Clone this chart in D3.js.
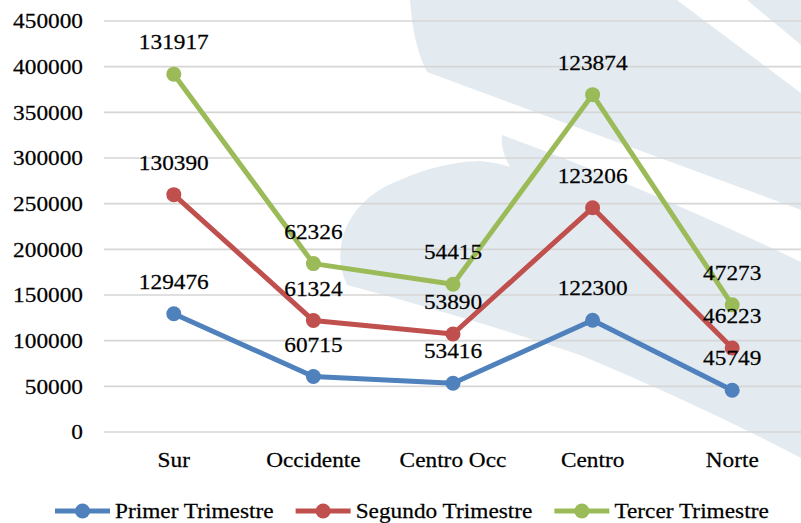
<!DOCTYPE html>
<html>
<head>
<meta charset="utf-8">
<script src="https://cdn.jsdelivr.net/npm/d3@7"></script>
<style>
  body { margin: 0; background: #fff; }
</style>
</head>
<body>
<div id="chart"></div>
<script>
const categories = ["Sur", "Occidente", "Centro Occ", "Centro", "Norte"];
const primer = [129476, 60715, 53416, 122300, 45749];
const segundo = [130390, 61324, 53890, 123206, 46223];
const tercer = [131917, 62326, 54415, 123874, 47273];
const seriesNames = ["Primer Trimestre", "Segundo Trimestre", "Tercer Trimestre"];
const yTicks = [0, 50000, 100000, 150000, 200000, 250000, 300000, 350000, 400000, 450000];

const colors = ["#4f81bd", "#c0504d", "#9bbb59"];
const width = 801, height = 523;
const SX = 1.06; // text in the source is slightly stretched horizontally
const fontSize = 22;

const svg = d3
  .select("#chart")
  .append("svg")
  .attr("width", width)
  .attr("height", height)
  .attr("font-family", "'Liberation Serif', 'Times New Roman', serif")
  .attr("fill", "#000");

// light watermark in the background
const wm = svg.append("g").attr("fill", "#e3ebf1");
wm.append("path").attr("d", "M410,0 L677,0 L801,93 L801,210 L427,72 Q413,45 410,0 Z");
wm.append("path").attr("d", "M747,0 L801,0 L801,45 Z");
wm.append("path").attr(
  "d",
  "M502,135 Q640,185 801,262 L801,458 Q700,405 580,355 Q460,315 347,285 " +
    "C330,250 345,200 400,180 Q440,162 480,161 Q500,163 510,167 Q500,150 502,135 Z"
);

const x = d3.scaleBand().domain(categories).range([104, 802]);
const cx = (c) => x(c) + x.bandwidth() / 2;
const y = d3.scaleLinear().domain([0, 450000]).range([432, 21]);

// gridlines
svg
  .append("g")
  .selectAll("line")
  .data(yTicks)
  .enter()
  .append("line")
  .attr("x1", 104)
  .attr("x2", width)
  .attr("y1", (d) => y(d))
  .attr("y2", (d) => y(d))
  .attr("stroke", "#d6d6d6")
  .attr("stroke-width", 1.6);

// all text shares the same look
function styleText(sel) {
  sel
    .attr("font-size", fontSize)
    .attr("stroke", "#000")
    .attr("stroke-width", 0.25);
}

// y axis labels
svg
  .append("g")
  .selectAll("text")
  .data(yTicks)
  .enter()
  .append("text")
  .attr("transform", (d) => `translate(83,${y(d)}) scale(${SX},1)`)
  .attr("dy", "0.33em")
  .attr("text-anchor", "end")
  .call(styleText)
  .text((d) => d);

// x axis labels
svg
  .append("g")
  .selectAll("text")
  .data(categories)
  .enter()
  .append("text")
  .attr("transform", (d) => `translate(${cx(d)},467) scale(${SX},1)`)
  .attr("text-anchor", "middle")
  .call(styleText)
  .text((d) => d);

// stacked lines
const table = categories.map((c, i) => ({
  cat: c,
  s0: primer[i],
  s1: segundo[i],
  s2: tercer[i],
}));
const stacked = d3.stack().keys(["s0", "s1", "s2"])(table);

const line = d3
  .line()
  .x((d) => cx(d.data.cat))
  .y((d) => y(d[1]));

const seriesG = svg
  .append("g")
  .selectAll("g")
  .data(stacked)
  .enter()
  .append("g");

seriesG
  .append("path")
  .attr("d", line)
  .attr("fill", "none")
  .attr("stroke", (d, i) => colors[i])
  .attr("stroke-width", 5)
  .attr("stroke-linejoin", "round");

seriesG
  .selectAll("circle")
  .data((d, i) => d.map((p) => ({ p, i })))
  .enter()
  .append("circle")
  .attr("cx", (d) => cx(d.p.data.cat))
  .attr("cy", (d) => y(d.p[1]))
  .attr("r", 7.5)
  .attr("fill", (d) => colors[d.i]);

// data labels (the quarter's own value, placed above the stacked point)
const labels = [];
stacked.forEach((s) => {
  s.forEach((p) => labels.push({ cat: p.data.cat, top: p[1], value: p[1] - p[0] }));
});
svg
  .append("g")
  .selectAll("text")
  .data(labels)
  .enter()
  .append("text")
  .attr("transform", (d) => `translate(${cx(d.cat)},${y(d.top) - 25}) scale(${SX},1)`)
  .attr("text-anchor", "middle")
  .call(styleText)
  .text((d) => d.value);

// legend
const legend = svg.append("g");
let lx = 55;
seriesNames.forEach((name, i) => {
  const g = legend.append("g").attr("transform", `translate(${lx},511)`);
  g.append("line")
    .attr("x1", 0)
    .attr("x2", 55)
    .attr("stroke", colors[i])
    .attr("stroke-width", 5);
  g.append("circle").attr("cx", 27.5).attr("r", 7.5).attr("fill", colors[i]);
  const t = g
    .append("text")
    .attr("transform", `translate(60,6.5) scale(${SX},1)`)
    .call(styleText)
    .text(name);
  lx += 60 + t.node().getComputedTextLength() * SX + 22;
});
</script>
</body>
</html>
